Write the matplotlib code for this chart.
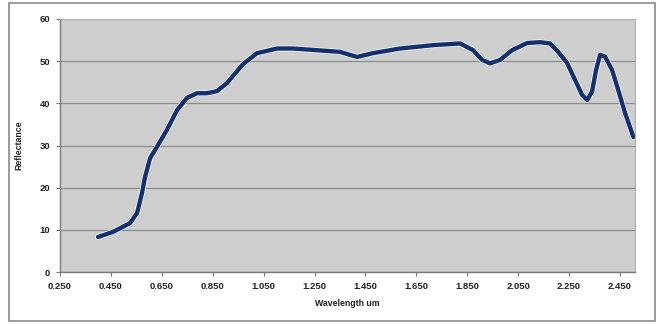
import matplotlib
matplotlib.use("Agg")
import matplotlib.pyplot as plt
import matplotlib.patheffects as pe
from matplotlib.patches import Rectangle

# spectrum (wavelength um, reflectance %)
wavelength = [0.399, 0.458, 0.525, 0.553, 0.572, 0.584, 0.604, 0.631, 0.670,
              0.710, 0.749, 0.788, 0.828, 0.867, 0.906, 0.969, 1.024,
              1.103, 1.166, 1.260, 1.350, 1.417, 1.480, 1.586, 1.716, 1.822,
              1.873, 1.908, 1.940, 1.979, 2.026, 2.085, 2.136, 2.175, 2.207,
              2.242, 2.274, 2.301, 2.321, 2.340, 2.356, 2.372, 2.391, 2.419,
              2.443, 2.470, 2.503]
reflectance = [8.3, 9.5, 11.6, 14.0, 18.7, 22.5, 27.0, 29.7, 33.7,
               38.4, 41.3, 42.4, 42.4, 42.9, 44.8, 49.3, 51.9,
               53.0, 53.0, 52.6, 52.2, 51.0, 51.9, 53.0, 53.8, 54.2,
               52.6, 50.3, 49.5, 50.3, 52.6, 54.3, 54.5, 54.2, 52.2,
               49.6, 45.5, 42.0, 40.8, 42.7, 47.9, 51.5, 51.1, 47.9,
               43.2, 37.7, 32.0]

xticks = [0.25, 0.45, 0.65, 0.85, 1.05, 1.25, 1.45, 1.65, 1.85, 2.05, 2.25, 2.45]
xticklabels = ["0.250", "0.450", "0.650", "0.850", "1.050", "1.250",
               "1.450", "1.650", "1.850", "2.050", "2.250", "2.450"]
yticks = [0, 10, 20, 30, 40, 50, 60]

W, H = 662, 324
fig = plt.figure(figsize=(W / 100, H / 100), dpi=100)
fig.patch.set_facecolor("white")

# outer chart frame
fig.patches.append(Rectangle((9 / W, 3 / H), 646 / W, 318 / H, transform=fig.transFigure,
                             fill=False, edgecolor="#8a8a8a", linewidth=1.2))

ax = fig.add_axes([60 / W, (H - 272) / H, 575 / W, 253 / H])
ax.set_facecolor("#cecece")

ax.plot(wavelength, reflectance, color="#12306f", linewidth=3.1,
        solid_capstyle="round", solid_joinstyle="round",
        path_effects=[pe.Stroke(linewidth=4.3, foreground="#f2f2f2"), pe.Normal()])

ax.set_xlim(0.25, 2.509)
ax.set_ylim(0, 60)
ax.set_xticks(xticks)
ax.set_xticklabels(xticklabels)
ax.set_yticks(yticks)

ax.grid(axis="y", color="#8c8c8c", linewidth=0.9)
ax.set_axisbelow(True)
for side in ["left", "bottom"]:
    ax.spines[side].set_color("#7a7a7a")
    ax.spines[side].set_linewidth(1.0)
for side in ["top", "right"]:
    ax.spines[side].set_color("#b0b0b0")
    ax.spines[side].set_linewidth(0.8)

ax.tick_params(axis="both", length=3, width=0.8, color="#7a7a7a", pad=4)
for lab in ax.get_xticklabels() + ax.get_yticklabels():
    lab.set_fontfamily("Liberation Sans")
    lab.set_fontsize(6.8)
    lab.set_fontweight("bold")
    lab.set_color("#222222")

ax.set_xlabel("Wavelength um", fontsize=6.3, fontweight="bold", family="Liberation Sans",
              color="#222222", labelpad=6)
ax.set_ylabel("Reflectance", fontsize=6.3, fontweight="bold", family="Liberation Sans",
              color="#222222", labelpad=12)

fig.savefig("out.png", dpi=100, facecolor=fig.get_facecolor())
